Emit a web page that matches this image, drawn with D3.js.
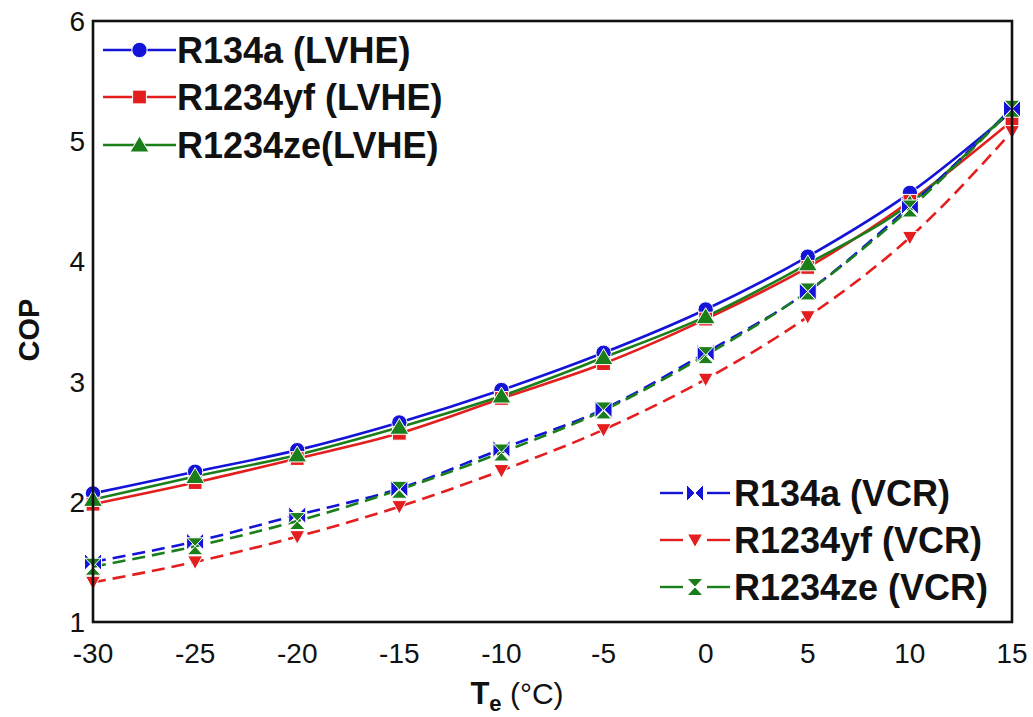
<!DOCTYPE html>
<html><head><meta charset="utf-8">
<script src="https://cdn.jsdelivr.net/npm/d3@7"></script>
<style>body{margin:0;background:#fff}svg{display:block}</style>
</head><body>
<svg id="c" width="1033" height="717"></svg>
<script>
const temps = [-30,-25,-20,-15,-10,-5,0,5,10,15];
const xTicks = [-30,-25,-20,-15,-10,-5,0,5,10,15];
const yTicks = [1,2,3,4,5,6];
const r134aLVHE   = [2.07,2.25,2.43,2.66,2.93,3.24,3.60,4.04,4.57,5.25];
const r1234yfLVHE = [1.98,2.16,2.36,2.57,2.86,3.15,3.52,3.95,4.50,5.17];
const r1234zeLVHE = [2.02,2.21,2.39,2.62,2.88,3.20,3.54,3.98,4.48,5.28];
const r134aVCR    = [1.50,1.67,1.89,2.11,2.44,2.77,3.24,3.75,4.46,5.27];
const r1234yfVCR  = [1.33,1.50,1.71,1.96,2.26,2.60,3.02,3.54,4.20,5.08];
const r1234zeVCR  = [1.46,1.63,1.84,2.10,2.41,2.76,3.22,3.75,4.44,5.27];

const series = [
  {name:"R134a (LVHE)", vals:r134aLVHE, color:"#1414d8", dash:null, marker:"circle"},
  {name:"R1234yf (LVHE)", vals:r1234yfLVHE, color:"#e41e1e", dash:null, marker:"square"},
  {name:"R1234ze(LVHE)", vals:r1234zeLVHE, color:"#1a7f1a", dash:null, marker:"triangle"},
  {name:"R134a (VCR)", vals:r134aVCR, color:"#1414d8", dash:"13,7", marker:"bowtie"},
  {name:"R1234yf (VCR)", vals:r1234yfVCR, color:"#e41e1e", dash:"13,7", marker:"tridown"},
  {name:"R1234ze (VCR)", vals:r1234zeVCR, color:"#1a7f1a", dash:"13,7", marker:"hourglass"}
];

const svg = d3.select("#c");
const L=93, R=1012, T=21, B=622;
const x = d3.scaleLinear().domain([-30,15]).range([L,R]);
const y = d3.scaleLinear().domain([1,6]).range([B,T]);

function markerPath(type){
  switch(type){
    case "circle": return d3.symbol(d3.symbolCircle, 185)();
    case "square": return d3.symbol(d3.symbolSquare, 190)();
    case "triangle": return "M0,-9L9.5,7L-9.5,7Z";
    case "tridown": return "M-7.5,-6L7.5,-6L0,7.5Z";
    case "bowtie": return "M-8.5,-8.5L0,0L-8.5,8.5ZM8.5,-8.5L0,0L8.5,8.5Z";
    case "hourglass": return "M-8,-8.5L8,-8.5L0,0ZM-8,8.5L8,8.5L0,0Z";
  }
}

const line = d3.line().x((d,i)=>x(temps[i])).y(d=>y(d)).curve(d3.curveMonotoneX);

const plot = svg.append("g");
series.forEach(s=>{
  plot.append("path").datum(s.vals).attr("d",line)
    .attr("fill","none").attr("stroke",s.color).attr("stroke-width",2.6)
    .attr("stroke-dasharray",s.dash);
});
series.forEach(s=>{
  plot.selectAll(null).data(s.vals).enter().append("path")
    .attr("transform",(d,i)=>`translate(${x(temps[i])},${y(d)})`)
    .attr("d",markerPath(s.marker))
    .attr("fill",s.color).attr("stroke","#fff").attr("stroke-width",1);
});

// frame
svg.append("rect").attr("x",L).attr("y",T).attr("width",R-L).attr("height",B-T)
  .attr("fill","none").attr("stroke","#111").attr("stroke-width",2.6);

// tick labels
const tickFont = "'Liberation Sans',Arial,sans-serif";
svg.append("g").selectAll("text").data(xTicks).enter().append("text")
  .attr("x",d=>x(d)).attr("y",663).attr("text-anchor","middle")
  .attr("font-family",tickFont).attr("font-size",28).attr("fill","#111").text(d=>d);
svg.append("g").selectAll("text").data(yTicks).enter().append("text")
  .attr("x",85).attr("y",d=>y(d)+10).attr("text-anchor","end")
  .attr("font-family",tickFont).attr("font-size",28).attr("fill","#111").text(d=>d);

// axis titles
svg.append("text").attr("transform","translate(39,330) rotate(-90)").attr("text-anchor","middle")
  .attr("font-family","'Liberation Sans',Arial,sans-serif").attr("font-weight","bold").attr("font-size",29)
  .attr("fill","#111").text("COP");
const xt = svg.append("text").attr("x",517).attr("y",704).attr("text-anchor","middle")
  .attr("font-family",tickFont).attr("font-size",30).attr("fill","#111");
xt.append("tspan").attr("font-weight","bold").attr("font-size",31).text("T");
xt.append("tspan").attr("font-weight","bold").attr("font-size",22).attr("dy",7).text("e");
xt.append("tspan").attr("dy",-7).text(" (°C)");

// legends
function legend(items, lx0, lx1, tx, ys){
  items.forEach((s,i)=>{
    const yy = ys[i];
    const g = svg.append("g");
    const mid = (lx0+lx1)/2;
    if (s.dash) {
      g.append("line").attr("x1",lx0).attr("x2",mid-12).attr("y1",yy).attr("y2",yy)
        .attr("stroke",s.color).attr("stroke-width",2.4);
      g.append("line").attr("x1",mid+12).attr("x2",lx1).attr("y1",yy).attr("y2",yy)
        .attr("stroke",s.color).attr("stroke-width",2.4);
    } else {
      g.append("line").attr("x1",lx0).attr("x2",lx1).attr("y1",yy).attr("y2",yy)
        .attr("stroke",s.color).attr("stroke-width",2.4);
    }
    g.append("path").attr("transform",`translate(${mid},${yy})`)
      .attr("d",markerPath(s.marker)).attr("fill",s.color).attr("stroke","#fff").attr("stroke-width",1);
    g.append("text").attr("x",tx).attr("y",yy+13).attr("font-family","'Liberation Sans',Arial,sans-serif")
      .attr("font-weight","bold").attr("font-size",36).attr("fill","#111").text(s.name);
  });
}
legend(series.slice(0,3),103,176,177,[50,97,145]);
legend(series.slice(3),660,730,734,[493,540,587]);
</script>
</body></html>
